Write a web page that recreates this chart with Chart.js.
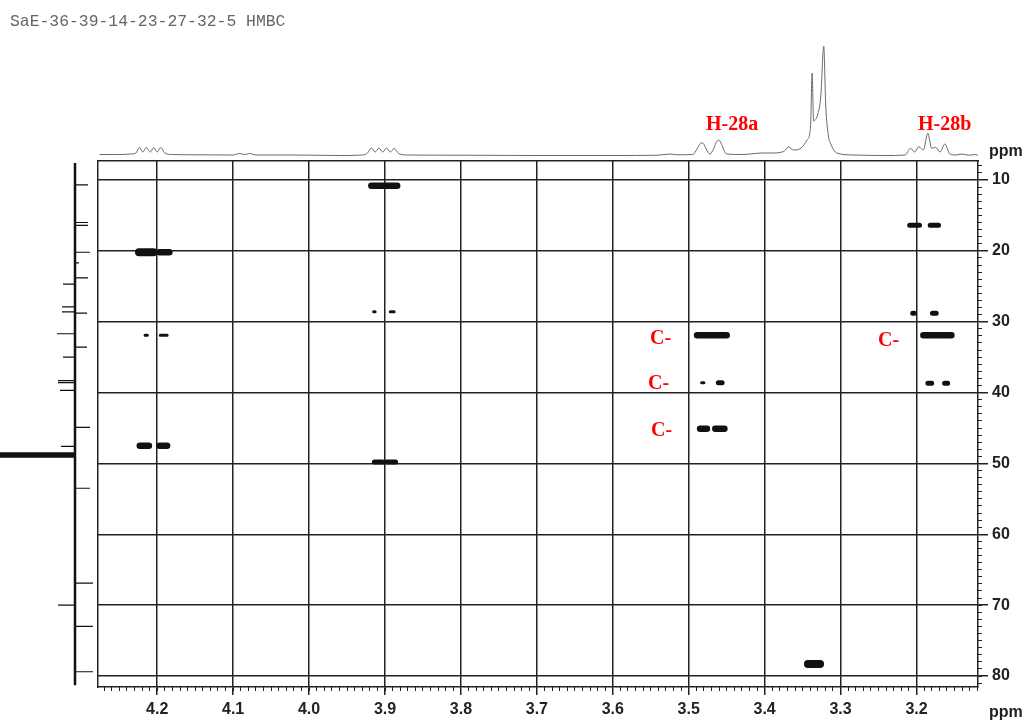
<!DOCTYPE html>
<html>
<head>
<meta charset="utf-8">
<title>SaE-36-39-14-23-27-32-5 HMBC</title>
<script src="https://cdn.jsdelivr.net/npm/chart.js@4.4.1/dist/chart.umd.min.js"></script>
<style>
  html, body { margin: 0; padding: 0; background: #fff; }
  #page { position: relative; width: 1029px; height: 721px; overflow: hidden; }
  #page canvas { position: absolute; left: 0; top: 0; }
  .txt { position: absolute; white-space: nowrap; line-height: 1; }
  .title { left: 10px; top: 12px; font: 16.4px "Liberation Mono", "DejaVu Sans Mono", monospace; color: #666; }
  .unit { left: 989px; font: bold 16px "Liberation Sans", Arial, sans-serif; color: #222; }
  .red { font: bold 20px "Liberation Serif", "Times New Roman", serif; color: #f00; }
</style>
</head>
<body>
<div id="page">
  <canvas id="proton" width="1029" height="721"></canvas>
  <canvas id="carbon" width="1029" height="721"></canvas>
  <canvas id="hmbc" width="1029" height="721"></canvas>

  <div class="txt title">SaE-36-39-14-23-27-32-5 HMBC</div>
  <div class="txt unit" style="top:142px">ppm</div>
  <div class="txt unit" style="top:703px">ppm</div>
  <div class="txt red" style="left:706px;top:112px">H-28a</div>
  <div class="txt red" style="left:918px;top:112px">H-28b</div>
  <div class="txt red" style="left:650px;top:326px">C-</div>
  <div class="txt red" style="left:648px;top:371px">C-</div>
  <div class="txt red" style="left:651px;top:418px">C-</div>
  <div class="txt red" style="left:878px;top:328px">C-</div>
</div>

<script>
Chart.defaults.font.family = "'Liberation Sans', Arial, sans-serif"
Chart.defaults.color = "#222"

// frame limits in ppm
const hRange = [3.119, 4.278]   // F2 (1H), drawn right to left
const cRange = [7.32, 81.55]    // F1 (13C), drawn top to bottom

// 1H projection along the top
const hTracePpm = [4.276, 4.250, 4.235, 4.228, 4.2235, 4.219, 4.2145, 4.209, 4.2045, 4.200, 4.1955, 4.190, 4.180,
  4.150, 4.100, 4.092, 4.085, 4.078, 4.070, 4.020, 3.960, 3.930, 3.923, 3.918, 3.913, 3.908, 3.903, 3.898, 3.893,
  3.888, 3.882, 3.870, 3.800, 3.700, 3.600, 3.540, 3.525, 3.515, 3.495, 3.4826, 3.472, 3.4607, 3.450, 3.430,
  3.402, 3.390, 3.375, 3.3684, 3.362, 3.352, 3.3441, 3.3395, 3.3375, 3.3355, 3.330, 3.326, 3.3222, 3.3195, 3.316,
  3.3134, 3.305, 3.283, 3.240, 3.215, 3.2078, 3.2025, 3.1969, 3.191, 3.1851, 3.180, 3.1749, 3.169, 3.1627,
  3.156, 3.148, 3.140, 3.132, 3.122, 3.119]
const hTraceInt = [1.5, 1.5, 2, 3, 8.5, 4, 8.5, 4, 8.5, 4, 8.5, 3, 1.5,
  1.2, 1, 2.5, 1.5, 2.5, 1, 1, 0.5, 1, 3, 8, 4, 8, 4, 8, 4,
  7.5, 2.5, 1, 0.8, 0.5, 0.5, 0.8, 2, 1.2, 1.5, 13.3, 2, 16, 2, 1.5,
  3, 3, 4.5, 9, 6, 8, 16, 30, 83, 35, 42, 60, 110, 50, 20,
  13, 3, 1, 0.5, 1, 7.7, 4, 9.3, 6, 22.7, 7.7, 8.7, 4, 12,
  2, 1, 2, 0.8, 1.5, 0.5]

// 13C projection on the left: baseline span and lines (positive = drawn to the left)
const cBaseline = [7.6, 81.3]
const cLinePpm = [10.7, 16.0, 16.4, 20.2, 21.7, 23.8, 24.7, 27.9, 28.6, 28.8, 31.7, 33.6, 35.0, 38.3, 38.6,
  39.7, 44.9, 47.6, 48.5, 48.65, 48.8, 48.95, 49.1, 53.5, 66.9, 70.0, 73.0, 79.4]
const cLineInt = [-13, -13, -13, -15, -4, -13, 12, 13, 13, -12, 18, -12, 12, 17, 17,
  15, -15, 14, 80, 80, 80, 80, 80, -15, -18, 17, -18, -18]

// HMBC cross peaks: each contour as a bar from peakH1 to peakH2 (1H ppm) at peakC (13C ppm)
const peakH1 = [4.224, 4.197, 4.216, 4.196, 4.223, 4.197, 3.918, 3.915, 3.893, 3.914, 3.898,
  3.489, 3.483, 3.461, 3.485, 3.465, 3.343, 3.209, 3.182, 3.205, 3.179, 3.191, 3.185, 3.163]
const peakH2 = [4.205, 4.184, 4.213, 4.187, 4.211, 4.187, 3.884, 3.913, 3.888, 3.903, 3.886,
  3.450, 3.480, 3.456, 3.476, 3.453, 3.327, 3.196, 3.171, 3.203, 3.174, 3.154, 3.180, 3.159]
const peakC = [20.2, 20.2, 31.9, 31.9, 47.5, 47.5, 10.8, 28.6, 28.6, 49.8, 49.8,
  31.9, 38.6, 38.6, 45.1, 45.1, 78.3, 16.4, 16.4, 28.8, 28.8, 31.9, 38.7, 38.7]
const peakLevel = [4, 3, 1, 1, 3, 3, 3, 1, 1, 2, 2,
  3, 1, 2, 3, 3, 4, 2, 2, 2, 2, 3, 2, 2]

const levelWidth = { 1: 3, 2: 5, 3: 6.5, 4: 8 }

const noInteraction = {
  responsive: false,
  animation: false,
  events: [],
  plugins: { legend: { display: false }, tooltip: { enabled: false } }
}

// top 1D proton trace
new Chart(document.getElementById("proton"), {
  type: "scatter",
  data: {
    datasets: [{
      data: hTracePpm.map((p, i) => ({ x: p, y: hTraceInt[i] })),
      showLine: true,
      borderColor: "#6a6a6a",
      borderWidth: 1,
      pointRadius: 0,
      cubicInterpolationMode: "monotone"
    }]
  },
  options: {
    ...noInteraction,
    layout: { padding: { left: 98, right: 51, top: 40, bottom: 561 } },
    scales: {
      x: { display: false, min: hRange[0], max: hRange[1], reverse: true },
      y: { display: false, min: -4, max: 116 }
    }
  }
})

// left 1D carbon projection
const spikeData = []
cLinePpm.forEach((p, i) => {
  spikeData.push({ x: 0, y: p }, { x: cLineInt[i], y: p }, { x: null, y: null })
})

new Chart(document.getElementById("carbon"), {
  type: "scatter",
  data: {
    datasets: [
      {
        data: [{ x: 0, y: cBaseline[0] }, { x: 0, y: cBaseline[1] }],
        showLine: true, borderColor: "#111", borderWidth: 2.5, pointRadius: 0
      },
      {
        data: spikeData,
        showLine: true, spanGaps: false, borderColor: "#111", borderWidth: 1.2, pointRadius: 0
      }
    ]
  },
  options: {
    ...noInteraction,
    layout: { padding: { left: 0, right: 931, top: 161, bottom: 34 } },
    scales: {
      x: { display: false, min: -23, max: 75, reverse: true },
      y: { display: false, min: cRange[0], max: cRange[1], reverse: true }
    }
  }
})

// 2D HMBC panel
const contourSets = [1, 2, 3, 4].map(lv => {
  const data = []
  peakC.forEach((c, i) => {
    if (peakLevel[i] !== lv) return
    data.push({ x: peakH1[i], y: c }, { x: peakH2[i], y: c }, { x: null, y: null })
  })
  return {
    data,
    showLine: true,
    spanGaps: false,
    borderColor: "#111",
    borderWidth: levelWidth[lv],
    borderCapStyle: "round",
    pointRadius: 0
  }
})

const tickFont = { size: 16, weight: "bold" }
const lineCol = "#222"

new Chart(document.getElementById("hmbc"), {
  type: "scatter",
  data: { datasets: contourSets },
  options: {
    ...noInteraction,
    layout: { padding: { left: 98, top: 161, right: 0, bottom: 0 } },
    scales: {
      x: {
        position: "bottom",
        min: hRange[0], max: hRange[1], reverse: true,
        ticks: { stepSize: 0.1, includeBounds: false, font: tickFont, color: lineCol, padding: 5,
          maxRotation: 0, autoSkip: false, callback: v => v.toFixed(1) },
        grid: { color: lineCol, lineWidth: 1.5, tickLength: 8 },
        border: { color: lineCol, width: 1.5 },
        afterFit: s => { s.height = 34 }
      },
      xMinor: {
        position: "bottom", weight: -1,
        min: hRange[0], max: hRange[1], reverse: true,
        ticks: { stepSize: 0.01, includeBounds: false, display: false, autoSkip: false },
        grid: { drawOnChartArea: false, color: lineCol, lineWidth: 1, tickLength: 4 },
        border: { display: false },
        afterFit: s => { s.height = 0 }
      },
      xTop: {
        position: "top",
        min: hRange[0], max: hRange[1], reverse: true,
        ticks: { display: false },
        grid: { display: false },
        border: { color: lineCol, width: 1.5 },
        afterFit: s => { s.height = 0 }
      },
      y: {
        position: "right",
        min: cRange[0], max: cRange[1], reverse: true,
        ticks: { stepSize: 10, includeBounds: false, font: tickFont, color: lineCol, padding: 4,
          autoSkip: false, callback: v => String(Math.round(v)) },
        grid: { color: lineCol, lineWidth: 1.5, tickLength: 10 },
        border: { color: lineCol, width: 1.5 },
        afterFit: s => { s.width = 51 }
      },
      yMinor: {
        position: "right", weight: -1,
        min: cRange[0], max: cRange[1], reverse: true,
        ticks: { stepSize: 1, includeBounds: false, display: false, autoSkip: false },
        grid: { drawOnChartArea: false, color: lineCol, lineWidth: 1, tickLength: 4 },
        border: { display: false },
        afterFit: s => { s.width = 0 }
      },
      yLeft: {
        position: "left",
        min: cRange[0], max: cRange[1], reverse: true,
        ticks: { display: false },
        grid: { display: false },
        border: { color: lineCol, width: 1.5 },
        afterFit: s => { s.width = 0 }
      }
    }
  }
})
</script>
</body>
</html>
